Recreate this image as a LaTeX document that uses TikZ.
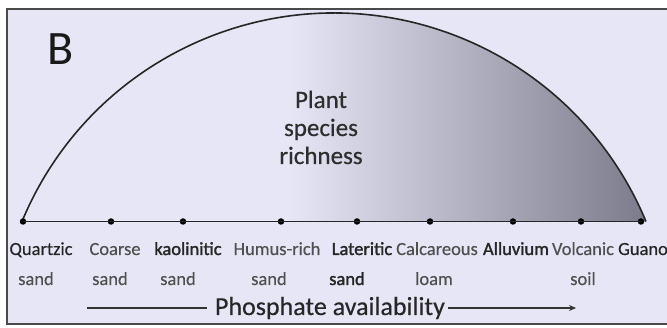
\documentclass[tikz,border=0pt]{standalone}
\usepackage{fontspec}
\setmainfont{Carlito}
\usetikzlibrary{arrows.meta}
\definecolor{bg}{HTML}{E6E6F6}
\definecolor{dk}{HTML}{7A7A8A}
\definecolor{frm}{HTML}{4A4A4A}
\definecolor{lbl}{HTML}{505050}
\definecolor{lbld}{HTML}{262626}
\begin{document}
\begin{tikzpicture}[x=1pt,y=-1pt,
  dot/.style={circle,fill=black,inner sep=0pt,minimum size=6.5pt},
  lab/.style={anchor=base,inner sep=0pt,text=lbl,font=\fontsize{18.5}{20}\selectfont\addfontfeature{FakeBold=0.4}},
  labd/.style={lab,text=lbld},
  labb/.style={lab,text=lbld,font=\fontsize{18.5}{20}\selectfont\addfontfeature{FakeBold=1.6}},
  axisline/.style={line width=1.8pt,draw=black!85},
  parrow/.style={line width=1.9pt,draw=black!80},
  dome/.style={start angle=157.5,end angle=22.5,radius=337.7pt}]
\useasboundingbox (0,0) rectangle (667,328);
\fill[white] (0,0) rectangle (667,328);
\fill[bg] (7,9) rectangle (667,324);
\draw[frm,line width=1.3pt] (668,9) -- (7,9) -- (7,324) -- (668,324);
% shaded circular segment
\begin{scope}
\clip (22,221.5) arc[dome] -- cycle;
\fill[bg] (20,0) rectangle (290,230);
\shade[left color=bg,right color=dk] (290,0) rectangle (650,230);
\end{scope}
\draw[line width=1.6pt,black!85] (22,221.5) arc[dome];
% dots
\node[dot] (d1) at (23,221.5) {};
\node[dot] (d2) at (111,221.5) {};
\node[dot] (d3) at (183,221.5) {};
\node[dot] (d4) at (281,221.5) {};
\node[dot] (d5) at (357,221.5) {};
\node[dot] (d6) at (430,221.5) {};
\node[dot] (d7) at (513,221.5) {};
\node[dot] (d8) at (581,221.5) {};
\node[dot] (d9) at (641,221.5) {};
\draw[axisline] (d1.center) -- (d9.center);
% B
\node[anchor=base,inner sep=0pt,text=black!90,font=\fontsize{48}{50}\selectfont] (B) at (61,65) {B};
% Plant species richness
\node[anchor=base,inner sep=0pt,text=black!82] (p1) at (321,108) {\fontsize{25}{29}\selectfont\addfontfeature{FakeBold=0.5}Plant};
\node[anchor=base,inner sep=0pt,text=black!82] (p2) at (321,136) {\fontsize{25}{29}\selectfont\addfontfeature{FakeBold=0.5}species};
\node[anchor=base,inner sep=0pt,text=black!82] (p3) at (321,164) {\fontsize{25}{29}\selectfont\addfontfeature{FakeBold=0.5}richness};
% labels row 1
\node[labd] (l1) at (41,255) {Quartzic};
\node[lab] (l2) at (115,255) {Coarse};
\node[labb] (l3) at (188,255) {kaolinitic};
\node[lab] (l4) at (277,255) {Humus-rich};
\node[labb] (l5) at (362,255) {Lateritic};
\node[lab] (l6) at (437,255) {Calcareous};
\node[labb] (l7) at (516,255) {Alluvium};
\node[lab] (l8) at (583,255) {Volcanic};
\node[labd] (l9) at (643,255) {Guano};
% labels row 2
\node[lab] (m1) at (36,285) {sand};
\node[lab] (m2) at (110,285) {sand};
\node[lab] (m3) at (178,285) {sand};
\node[lab] (m4) at (269,285) {sand};
\node[labb] (m5) at (347,285) {sand};
\node[lab] (m6) at (434,285) {loam};
\node[lab] (m8) at (583,285) {soil};
% phosphate availability
\node[anchor=base,inner sep=0pt,text=black!85,font=\fontsize{26}{28}\selectfont\addfontfeature{FakeBold=0.4}] (ph) at (330,315) {Phosphate availability};
\coordinate (a0) at (87,308);
\coordinate (a1) at (207,308);
\coordinate (b0) at (448,308);
\coordinate (b1) at (576,308);
\draw[parrow] (a0) -- (a1);
\draw[parrow,-{Stealth[length=7pt,width=6pt]}] (b0) -- (b1);
\end{tikzpicture}
\end{document}
